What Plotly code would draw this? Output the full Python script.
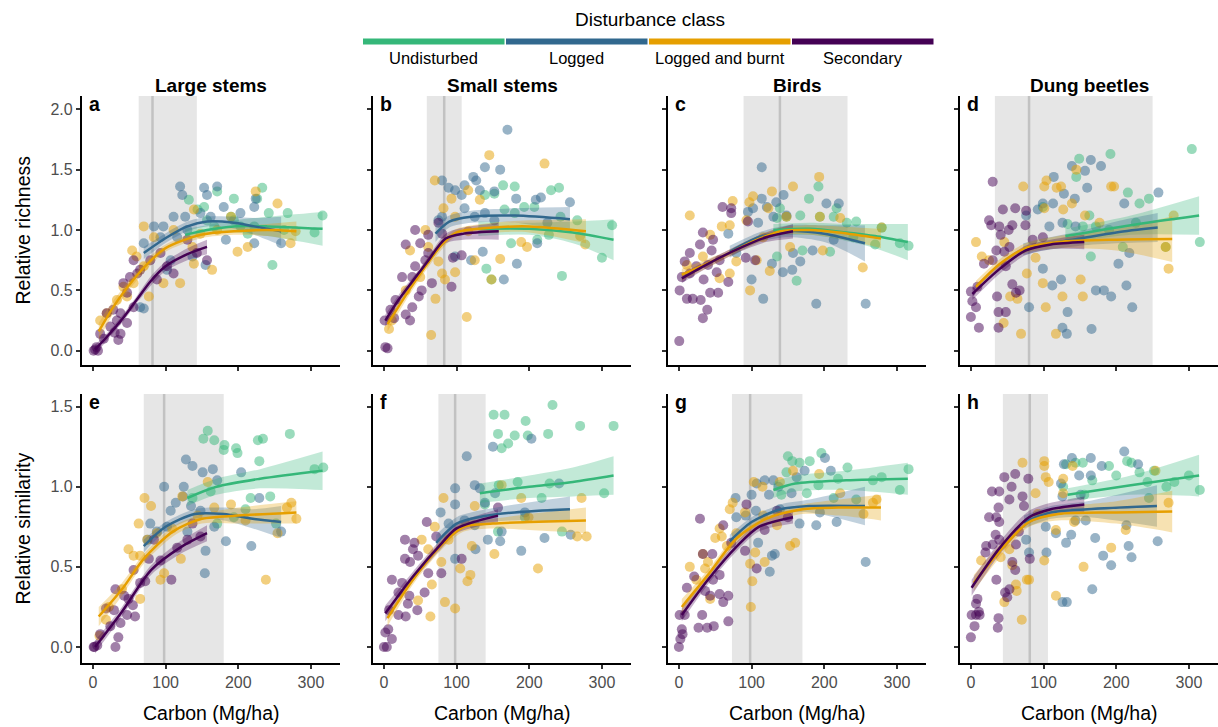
import plotly.graph_objects as go

# ---------------- data ----------------
classes = ["Undisturbed", "Logged", "Logged and burnt", "Secondary"]
class_colors = ["#35B779", "#31688E", "#E69F00", "#440154"]
panel_letters = ["a", "b", "c", "d", "e", "f", "g", "h"]
col_titles = ["Large stems", "Small stems", "Birds", "Dung beetles"]
row_titles = ["Relative richness", "Relative similarity"]
x_ticks = [0, 100, 200, 300]
y_ticks_top = [0.0, 0.5, 1.0, 1.5, 2.0]
y_ticks_bottom = [0.0, 0.5, 1.0, 1.5]

# grey band (low, high) and vertical threshold line per panel
band_lo = [63, 59, 89, 33, 70, 75, 73, 44]
band_hi = [143, 107, 232, 250, 180, 140, 170, 106]
threshold = [82, 83, 139, 80, 98, 98, 98, 81]

# ---- observed points (carbon, response) ----
pts_a_und = [(132,1.25),(171,1.32),(194,1.26),(226,1.26),(233,1.35),(242,1.14),(268,1.14),(316,1.12),(305,0.98),(247,0.71),
             (222,1.03),(213,0.97),(190,1.11),(153,1.19),(157,1.08),(203,1.03),(144,1.17),(167,1.03),(194,1.08),(263,1.0)]
pts_a_log = [(120,1.36),(123,1.29),(153,1.35),(171,1.36),(157,1.29),(148,1.14),(111,1.11),(97,1.03),(84,1.03),(93,0.94),
             (70,0.89),(65,0.36),(70,0.35),(107,0.75),(116,0.94),(130,1.0),(155,0.71),(162,1.11),(180,1.19),(203,1.14),
             (222,1.19),(224,1.26),(222,0.89),(259,0.89),(183,0.92),(137,0.78),(102,0.67),(127,1.11)]
pts_a_bur = [(70,1.03),(84,0.94),(54,0.83),(60,0.78),(70,0.70),(77,0.45),(97,0.56),(120,0.56),(111,1.0),(139,1.17),
             (137,0.86),(139,0.72),(164,0.67),(190,1.11),(199,0.82),(213,0.86),(224,1.32),(254,1.22),(272,0.89),(279,0.99),
             (10,0.25),(19,0.31),(33,0.42),(42,0.53),(47,0.45),(148,0.97),(171,1.0),(56,0.56)]
pts_a_sec = [(1,0.0),(3,0.01),(5,0.03),(7,0.0),(10,0.14),(19,0.31),(24,0.2),(33,0.25),(35,0.09),(38,0.14),(28,0.34),
             (42,0.56),(47,0.48),(51,0.61),(56,0.36),(61,0.64),(65,0.67),(47,0.23),(38,0.31),(56,0.75),(93,0.81),
             (102,0.70),(111,0.64),(130,0.92),(143,0.81),(157,0.75),(88,0.59),(79,0.75),(15,0.1),(30,0.15)]

pts_b_und = [(164,1.37),(180,1.36),(230,1.33),(241,1.35),(139,1.29),(152,1.30),(166,1.17),(180,1.14),(193,1.19),(207,1.19),
             (227,0.96),(243,1.11),(266,1.08),(314,1.04),(300,0.77),(245,0.62),(148,0.59),(141,0.68),(175,0.89),(211,0.92)]
pts_b_log = [(170,1.83),(139,1.52),(160,1.50),(123,1.44),(127,1.41),(111,1.37),(80,1.41),(89,1.35),(98,1.33),(107,1.29),
             (132,1.33),(152,1.32),(182,1.26),(209,1.25),(216,1.27),(256,1.23),(111,1.18),(125,1.11),(139,1.14),(152,1.08),
             (75,1.08),(98,0.78),(120,0.75),(136,0.82),(165,0.59),(183,0.72),(225,1.06),(211,0.89),(80,1.11)]
pts_b_bur = [(70,1.41),(145,1.62),(221,1.55),(93,1.26),(116,1.33),(132,1.25),(82,1.18),(98,1.11),(116,0.99),(57,1.0),
             (61,0.86),(75,0.74),(80,0.64),(84,0.59),(98,0.65),(71,0.43),(65,0.13),(114,0.28),(125,0.75),(160,0.76),
             (189,0.90),(197,0.86),(270,0.95),(277,0.88),(148,0.59),(30,0.5),(36,0.83),(11,0.25),(7,0.18),(50,0.61)]
pts_b_sec = [(2,0.03),(5,0.02),(1,0.25),(9,0.34),(16,0.42),(14,0.27),(30,0.30),(39,0.36),(36,0.25),(48,0.45),(43,0.70),
             (30,0.88),(43,1.0),(50,0.89),(61,0.96),(57,0.75),(25,0.61),(39,0.61),(52,0.50),(66,0.56),(75,1.06),(95,0.77),
             (107,0.79),(93,0.53),(61,0.81),(80,0.97)]

pts_c_und = [(192,1.36),(179,1.26),(217,1.18),(139,1.18),(135,1.10),(148,1.11),(167,1.12),(194,1.11),(213,1.11),(231,1.06),
             (244,1.07),(279,1.02),(304,0.89),(316,0.87),(270,0.88),(208,0.82),(170,0.83),(162,0.58),(135,0.78),(240,0.94)]
pts_c_log = [(114,1.52),(114,1.26),(102,1.18),(95,1.15),(109,1.06),(121,1.19),(134,1.23),(144,1.29),(130,1.11),(148,1.12),
             (157,0.81),(167,0.74),(143,0.65),(156,0.67),(128,0.72),(100,0.59),(116,0.43),(189,0.39),(257,0.39),(203,1.22),
             (220,1.22),(184,0.83),(213,0.92),(68,0.97),(79,0.81)]
pts_c_bur = [(15,1.12),(59,1.03),(70,1.04),(74,1.24),(102,1.28),(97,1.23),(128,1.32),(157,1.36),(193,1.44),(123,1.18),
             (93,1.08),(148,1.11),(194,1.11),(222,1.10),(279,1.02),(253,0.69),(198,0.83),(153,0.86),(98,0.50),(125,0.66),
             (107,0.75),(43,0.96),(56,0.60),(79,0.74),(33,0.78),(11,0.71),(70,0.64),(116,0.94)]
pts_c_sec = [(0.5,0.08),(1,0.50),(11,0.43),(19,0.43),(30,0.42),(33,0.27),(39,0.34),(43,0.48),(54,0.48),(4,0.61),(8,0.74),
             (15,0.81),(29,0.88),(33,0.98),(47,0.92),(45,0.83),(60,1.19),(72,1.14),(72,1.18),(40,0.71),(52,0.65),(68,0.57),
             (24,0.70),(56,0.75),(95,1.07),(92,0.77),(105,0.75),(15,0.64),(34,0.59)]

pts_d_und = [(304,1.67),(192,1.63),(149,1.59),(145,1.44),(216,1.31),(245,1.26),(232,1.22),(163,1.12),(133,1.05),(154,1.03),
             (172,1.03),(190,1.0),(227,1.06),(268,0.86),(315,0.90),(209,0.86),(165,0.78),(99,1.19)]
pts_d_log = [(165,1.58),(179,1.53),(139,1.53),(157,1.49),(114,1.44),(160,1.35),(128,1.30),(143,1.26),(258,1.31),(211,1.22),
             (99,1.22),(113,1.22),(76,1.12),(92,1.17),(108,1.03),(126,1.06),(144,1.03),(218,0.81),(203,0.72),(172,0.50),
             (183,0.50),(193,0.45),(222,0.36),(166,0.18),(126,0.19),(132,0.14),(124,0.59),(112,0.54),(133,0.32),(99,0.68),
             (214,0.54),(80,0.36)]
pts_d_bur = [(7,0.90),(15,0.78),(46,0.90),(72,1.36),(101,1.36),(104,1.41),(118,1.35),(124,1.36),(145,1.50),(193,1.36),
             (197,1.36),(127,1.17),(139,1.22),(101,1.18),(157,1.12),(279,1.12),(268,0.86),(272,0.68),(77,0.64),(99,0.56),
             (103,0.36),(126,0.45),(154,0.45),(151,0.59),(117,0.14),(69,0.14),(45,0.23),(54,0.45),(64,0.43),(25,0.75),
             (89,0.77),(177,1.06)]
pts_d_sec = [(30,1.40),(0,0.49),(2,0.41),(7,0.36),(0,0.28),(11,0.19),(9,0.53),(18,0.72),(25,1.08),(28,1.04),(39,1.03),
             (44,1.17),(61,1.18),(76,1.16),(36,0.45),(38,0.32),(38,0.19),(48,0.32),(57,0.55),(62,0.48),(67,0.50),(41,0.96),
             (52,1.0),(57,1.04),(75,1.04),(35,0.83),(46,0.82),(53,0.86),(30,0.75),(85,0.92),(48,0.70),(99,0.94)]

pts_e_und = [(158,1.35),(152,1.30),(167,1.29),(181,1.26),(180,1.23),(197,1.24),(199,1.21),(227,1.29),(234,1.30),(271,1.33),
             (229,1.16),(305,1.11),(317,1.12),(244,0.94),(217,0.93),(210,0.86),(137,0.93),(162,0.97),(171,0.77),(194,0.81),
             (252,0.77)]
pts_e_log = [(128,1.17),(137,1.13),(151,1.09),(165,1.11),(171,1.04),(204,1.09),(229,0.93),(125,1.0),(98,1.0),(114,0.90),
             (135,0.88),(79,0.77),(88,0.72),(107,0.85),(124,0.94),(148,0.85),(155,0.60),(154,0.46),(183,0.66),(218,0.63),
             (259,0.72),(167,0.75),(75,0.67),(102,0.75),(130,0.72)]
pts_e_bur = [(71,0.93),(80,0.88),(63,0.77),(49,0.61),(56,0.57),(75,0.67),(88,0.71),(109,0.74),(121,0.55),(93,0.42),
             (98,0.46),(123,0.94),(158,1.03),(190,0.89),(210,0.79),(238,0.42),(254,0.71),(267,0.87),(273,0.90),(280,0.80),
             (167,0.87),(144,0.82),(18,0.17),(9,0.07),(22,0.25),(40,0.36),(65,0.30),(65,0.57)]
pts_e_sec = [(2,0.0),(6,0.01),(1,0.0),(10,0.08),(18,0.24),(31,0.36),(31,0.0),(35,0.06),(38,0.15),(29,0.23),(47,0.2),
             (55,0.26),(58,0.19),(49,0.30),(65,0.40),(72,0.41),(56,0.48),(77,0.55),(93,0.54),(108,0.42),(116,0.62),
             (130,0.67),(148,0.69),(137,0.77),(84,0.67),(43,0.32),(24,0.13)]

pts_f_und = [(151,1.45),(166,1.45),(232,1.51),(316,1.38),(270,1.38),(195,1.41),(180,1.32),(198,1.32),(157,1.33),(162,1.24),
             (226,1.33),(171,1.27),(184,1.03),(228,1.02),(217,0.93),(303,0.96),(158,1.01),(245,0.72),(157,0.72),(194,0.81),
             (139,0.89)]
pts_f_log = [(114,1.19),(150,1.25),(203,1.30),(98,0.99),(125,1.01),(132,0.99),(241,1.02),(153,0.96),(98,0.89),(111,0.79),
             (125,0.76),(143,0.67),(126,0.61),(160,0.66),(189,0.60),(221,0.68),(257,0.70),(78,0.84),(89,0.77),(139,0.90),
             (194,0.84),(162,0.72),(98,0.55)]
pts_f_bur = [(82,0.93),(125,0.88),(162,1.01),(189,0.93),(272,0.93),(266,0.69),(279,0.69),(199,0.81),(152,0.58),(212,0.49),
             (119,0.45),(115,0.41),(105,0.49),(98,0.24),(84,0.28),(64,0.19),(47,0.29),(66,0.39),(79,0.53),(70,0.75),
             (52,0.67),(89,0.67),(61,0.61),(121,0.63)]
pts_f_sec = [(0,0.0),(4,0.0),(2,0.09),(6,0.11),(11,0.05),(7,0.23),(20,0.2),(11,0.42),(25,0.40),(29,0.55),(36,0.53),
             (42,0.65),(40,0.61),(35,0.32),(33,0.27),(46,0.23),(56,0.34),(61,0.46),(59,0.78),(72,0.69),(79,0.46),
             (107,0.55),(47,0.57),(20,0.34),(30,0.19),(157,0.87),(29,0.67)]

pts_g_und = [(150,1.19),(156,1.16),(196,1.21),(166,1.15),(180,1.16),(232,1.12),(316,1.11),(304,0.98),(267,1.04),(279,1.06),
             (219,1.05),(192,1.01),(148,1.09),(141,0.95),(176,0.96),(213,0.93),(244,0.92)]
pts_g_log = [(201,1.18),(209,1.10),(162,1.06),(173,1.10),(118,1.04),(130,1.04),(137,1.0),(107,1.02),(78,0.93),(100,0.95),
             (124,0.95),(155,0.96),(106,0.85),(79,0.81),(92,0.82),(166,0.77),(189,0.76),(217,0.78),(257,0.53),(128,0.57),
             (132,0.58),(125,0.47),(109,0.65),(194,0.84),(139,0.86)]
pts_g_bur = [(157,1.10),(193,1.08),(103,1.03),(115,1.0),(139,1.03),(70,0.86),(74,0.90),(91,0.84),(116,0.82),(135,0.76),
             (153,0.63),(160,0.65),(105,0.59),(98,0.52),(118,0.53),(101,0.41),(99,0.25),(59,0.69),(50,0.68),(56,0.74),
             (40,0.53),(36,0.49),(15,0.50),(24,0.42),(43,0.30),(267,0.90),(272,0.92),(254,0.83),(222,0.96),(33,0.58),
             (66,0.63),(79,0.71)]
pts_g_sec = [(0,0.0),(2,0.05),(5,0.08),(4,0.11),(1,0.2),(8,0.2),(11,0.37),(21,0.44),(29,0.80),(27,0.12),(32,0.2),
             (39,0.12),(48,0.13),(33,0.58),(46,0.58),(36,0.35),(43,0.32),(56,0.33),(68,0.32),(61,0.28),(68,0.16),
             (56,0.45),(61,0.76),(72,0.65),(91,0.60),(93,0.89),(107,0.49),(118,0.73),(135,0.85),(150,0.81),(47,0.42)]

pts_h_und = [(131,1.14),(144,1.15),(154,1.15),(190,1.13),(215,1.16),(221,1.15),(243,1.03),(252,1.10),(269,1.0),(280,1.03),
             (315,0.98),(300,1.07),(167,1.04),(127,1.0),(156,0.95),(200,1.07),(232,1.09),(245,0.93)]
pts_h_log = [(128,1.14),(139,1.18),(165,1.18),(180,1.13),(211,1.22),(230,1.14),(149,1.07),(165,1.07),(124,1.02),(126,0.94),
             (151,0.95),(103,0.75),(117,0.71),(131,0.65),(138,0.70),(144,0.79),(158,0.79),(104,0.59),(80,0.59),(214,0.76),
             (171,0.68),(217,0.63),(257,0.66),(221,0.56),(182,0.57),(193,0.51),(167,0.36),(126,0.28),(132,0.28),(76,0.67)]
pts_h_bur = [(101,1.16),(71,1.15),(101,1.13),(103,1.06),(107,1.03),(127,0.96),(140,1.13),(127,1.05),(89,0.96),(92,0.83),
             (117,0.73),(142,0.78),(101,0.54),(155,0.50),(193,0.62),(213,0.73),(272,0.90),(254,1.10),(117,0.32),(80,0.42),
             (77,0.42),(62,0.39),(46,0.28),(70,0.17),(63,0.35),(53,0.61),(41,0.56),(14,0.54),(57,0.51)]
pts_h_sec = [(0,0.06),(5,0.13),(1,0.20),(7,0.20),(12,0.20),(11,0.22),(7,0.27),(9,0.30),(37,0.12),(38,0.18),(35,0.42),
             (47,0.34),(53,0.36),(50,0.31),(61,0.48),(57,0.53),(21,0.63),(30,0.64),(20,0.59),(34,0.70),(39,0.67),
             (25,0.81),(35,0.81),(39,0.78),(38,0.87),(29,0.97),(39,0.97),(46,1.06),(53,0.92),(61,1.08),(79,1.05),
             (56,1.0),(71,0.94),(73,0.88),(66,0.72),(81,0.55),(62,0.64)]

# ---- fitted curves (carbon, fit, half-width of confidence band) ----
fit_a_und = [(127,0.96,0.05),(157,1.0,0.04),(194,1.03,0.05),(240,1.03,0.08),(316,1.01,0.14)]
fit_a_log = [(70,0.81,0.05),(102,0.94,0.04),(130,1.03,0.04),(157,1.07,0.04),(194,1.06,0.05),(222,1.03,0.07),(259,0.99,0.12)]
fit_a_bur = [(8,0.16,0.07),(30,0.38,0.05),(56,0.59,0.04),(75,0.72,0.04),(100,0.85,0.03),(148,0.96,0.03),(194,0.99,0.03),(240,1.0,0.05),(280,0.99,0.08)]
fit_a_sec = [(3,0.01,0.04),(20,0.12,0.03),(40,0.26,0.03),(60,0.42,0.03),(80,0.58,0.04),(100,0.70,0.04),(130,0.80,0.05),(157,0.86,0.06)]

fit_b_und = [(130,1.01,0.06),(200,1.01,0.05),(260,0.98,0.09),(316,0.92,0.17)]
fit_b_log = [(71,0.97,0.07),(90,1.07,0.05),(120,1.11,0.05),(180,1.12,0.06),(256,1.09,0.10)]
fit_b_bur = [(5,0.22,0.06),(40,0.55,0.04),(80,0.88,0.04),(100,0.98,0.03),(150,1.02,0.04),(200,1.03,0.05),(278,0.99,0.10)]
fit_b_sec = [(2,0.25,0.05),(20,0.42,0.04),(40,0.58,0.03),(60,0.74,0.03),(85,0.93,0.04),(110,0.97,0.05),(158,0.99,0.07)]

fit_c_und = [(130,1.0,0.05),(180,1.01,0.05),(230,0.98,0.07),(270,0.95,0.10),(315,0.90,0.15)]
fit_c_log = [(70,0.82,0.05),(110,0.94,0.04),(150,0.99,0.05),(200,0.97,0.07),(256,0.89,0.15)]
fit_c_bur = [(4,0.63,0.05),(60,0.78,0.03),(100,0.90,0.03),(140,0.99,0.03),(180,1.0,0.04),(220,0.98,0.05),(278,0.93,0.08)]
fit_c_sec = [(4,0.60,0.04),(40,0.72,0.03),(80,0.84,0.03),(120,0.94,0.04),(157,0.99,0.06)]

fit_d_und = [(130,0.95,0.06),(220,1.04,0.08),(314,1.12,0.16)]
fit_d_log = [(72,0.84,0.05),(100,0.88,0.05),(150,0.93,0.06),(200,0.98,0.09),(257,1.02,0.12)]
fit_d_bur = [(7,0.53,0.05),(40,0.72,0.04),(75,0.85,0.04),(120,0.90,0.05),(200,0.92,0.09),(277,0.925,0.19)]
fit_d_sec = [(2,0.47,0.05),(40,0.68,0.04),(75,0.83,0.04),(110,0.88,0.04),(156,0.90,0.06)]

fit_e_und = [(130,0.93,0.05),(170,1.0,0.05),(230,1.05,0.06),(316,1.10,0.12)]
fit_e_log = [(70,0.63,0.04),(100,0.75,0.03),(140,0.83,0.03),(180,0.83,0.04),(220,0.80,0.06),(259,0.78,0.10)]
fit_e_bur = [(8,0.19,0.06),(40,0.36,0.04),(70,0.55,0.03),(110,0.72,0.03),(150,0.80,0.03),(200,0.82,0.05),(280,0.84,0.07)]
fit_e_sec = [(3,0.0,0.04),(40,0.22,0.03),(80,0.48,0.03),(120,0.62,0.04),(157,0.71,0.05)]

fit_f_und = [(132,0.96,0.06),(200,1.0,0.07),(260,1.03,0.09),(316,1.07,0.12)]
fit_f_log = [(72,0.65,0.05),(100,0.77,0.04),(130,0.81,0.04),(180,0.84,0.05),(256,0.86,0.08)]
fit_f_bur = [(5,0.18,0.05),(40,0.42,0.03),(80,0.64,0.03),(110,0.75,0.03),(150,0.77,0.03),(200,0.78,0.05),(278,0.79,0.08)]
fit_f_sec = [(2,0.21,0.05),(40,0.44,0.03),(80,0.65,0.03),(100,0.74,0.03),(157,0.82,0.04)]

fit_g_und = [(130,0.98,0.05),(160,1.02,0.05),(230,1.04,0.06),(315,1.05,0.10)]
fit_g_log = [(70,0.66,0.04),(100,0.78,0.03),(140,0.86,0.03),(180,0.88,0.04),(256,0.88,0.12)]
fit_g_bur = [(4,0.25,0.05),(40,0.45,0.03),(80,0.68,0.03),(120,0.80,0.03),(170,0.86,0.03),(220,0.87,0.05),(278,0.87,0.08)]
fit_g_sec = [(4,0.20,0.04),(40,0.42,0.03),(80,0.63,0.03),(110,0.75,0.03),(157,0.81,0.04)]

fit_h_und = [(133,0.95,0.04),(220,1.01,0.06),(314,1.07,0.13)]
fit_h_log = [(73,0.78,0.04),(110,0.84,0.04),(160,0.86,0.05),(256,0.88,0.13)]
fit_h_bur = [(4,0.40,0.05),(40,0.60,0.04),(80,0.78,0.03),(120,0.83,0.04),(200,0.84,0.07),(277,0.845,0.13)]
fit_h_sec = [(1,0.37,0.05),(40,0.62,0.04),(80,0.81,0.04),(110,0.86,0.04),(156,0.89,0.05)]

points = {
    "a": [pts_a_und, pts_a_log, pts_a_bur, pts_a_sec], "b": [pts_b_und, pts_b_log, pts_b_bur, pts_b_sec],
    "c": [pts_c_und, pts_c_log, pts_c_bur, pts_c_sec], "d": [pts_d_und, pts_d_log, pts_d_bur, pts_d_sec],
    "e": [pts_e_und, pts_e_log, pts_e_bur, pts_e_sec], "f": [pts_f_und, pts_f_log, pts_f_bur, pts_f_sec],
    "g": [pts_g_und, pts_g_log, pts_g_bur, pts_g_sec], "h": [pts_h_und, pts_h_log, pts_h_bur, pts_h_sec],
}
fits = {
    "a": [fit_a_und, fit_a_log, fit_a_bur, fit_a_sec], "b": [fit_b_und, fit_b_log, fit_b_bur, fit_b_sec],
    "c": [fit_c_und, fit_c_log, fit_c_bur, fit_c_sec], "d": [fit_d_und, fit_d_log, fit_d_bur, fit_d_sec],
    "e": [fit_e_und, fit_e_log, fit_e_bur, fit_e_sec], "f": [fit_f_und, fit_f_log, fit_f_bur, fit_f_sec],
    "g": [fit_g_und, fit_g_log, fit_g_bur, fit_g_sec], "h": [fit_h_und, fit_h_log, fit_h_bur, fit_h_sec],
}

# ---------------- layout helpers ----------------
W, H = 1218, 727
FONT = "Liberation Sans, Arial, sans-serif"
col_left = [82, 373, 668, 960]
panel_w = 258
row_top = [96, 394]
row_bot = [365, 663]
y_ranges = [[-0.118, 2.11], [-0.10, 1.579]]
x_range = [-15, 340]


def rgba(hex_color, a):
    h = hex_color.lstrip("#")
    return "rgba(%d,%d,%d,%.3f)" % (int(h[0:2], 16), int(h[2:4], 16), int(h[4:6], 16), a)


fig = go.Figure()
shapes = []
annotations = []

for i, letter in enumerate(panel_letters):
    r, c = divmod(i, 4)
    n = i + 1
    xa = "x" if n == 1 else "x%d" % n
    ya = "y" if n == 1 else "y%d" % n

    x0 = col_left[c] / W
    x1 = min((col_left[c] + panel_w) / W, 1.0)
    y0 = 1 - row_bot[r] / H
    y1 = 1 - row_top[r] / H

    fig.layout["xaxis%s" % ("" if n == 1 else n)] = dict(
        domain=[x0, x1], range=x_range, anchor=ya, showgrid=False, zeroline=False,
        showline=True, linecolor="black", linewidth=2.2, ticks="outside", ticklen=4,
        tickwidth=1.6, tickcolor="#333333", tickvals=x_ticks,
        showticklabels=(r == 1), tickfont=dict(family=FONT, size=16, color="#4D4D4D"),
    )
    fig.layout["yaxis%s" % ("" if n == 1 else n)] = dict(
        domain=[y0, y1], range=y_ranges[r], anchor=xa, showgrid=False, zeroline=False,
        showline=True, linecolor="black", linewidth=2.2, ticks="outside", ticklen=4,
        tickwidth=1.6, tickcolor="#333333",
        tickvals=y_ticks_top if r == 0 else y_ticks_bottom, tickformat=".1f",
        showticklabels=(c == 0), tickfont=dict(family=FONT, size=16, color="#4D4D4D"),
    )

    # grey band + threshold line
    shapes.append(dict(type="rect", xref=xa, yref=ya + " domain", x0=band_lo[i], x1=band_hi[i],
                       y0=0, y1=1, fillcolor="#E6E6E6", line=dict(width=0), layer="below"))
    shapes.append(dict(type="line", xref=xa, yref=ya + " domain", x0=threshold[i], x1=threshold[i],
                       y0=0, y1=1, line=dict(color="#C2C2C2", width=2.5), layer="below"))

    # points
    for k, cls in enumerate(classes):
        pts = points[letter][k]
        fig.add_trace(go.Scatter(
            x=[p[0] for p in pts], y=[p[1] for p in pts], mode="markers", xaxis=xa, yaxis=ya,
            marker=dict(size=10, color=rgba(class_colors[k], 0.5), line=dict(width=0)),
            showlegend=False, hoverinfo="skip"))

    # confidence ribbons (lower bound, then upper bound filled to it)
    for k, cls in enumerate(classes):
        f = fits[letter][k]
        fx = [p[0] for p in f]
        upper = [p[1] + p[2] for p in f]
        lower = [p[1] - p[2] for p in f]
        fig.add_trace(go.Scatter(
            x=fx, y=lower, mode="lines", line=dict(width=0, shape="spline", smoothing=0.8),
            xaxis=xa, yaxis=ya, showlegend=False, hoverinfo="skip"))
        fig.add_trace(go.Scatter(
            x=fx, y=upper, mode="lines", fill="tonexty", fillcolor=rgba(class_colors[k], 0.3),
            line=dict(width=0, shape="spline", smoothing=0.8),
            xaxis=xa, yaxis=ya, showlegend=False, hoverinfo="skip"))
    # fitted lines
    for k, cls in enumerate(classes):
        f = fits[letter][k]
        fig.add_trace(go.Scatter(
            x=[p[0] for p in f], y=[p[1] for p in f], mode="lines",
            line=dict(color=class_colors[k], width=2.5, shape="spline", smoothing=0.8),
            xaxis=xa, yaxis=ya, showlegend=False, hoverinfo="skip"))

    # panel letter
    annotations.append(dict(text="<b>%s</b>" % letter, x=(col_left[c] + 5) / W,
                            y=1 - (row_top[r] + 8) / H, xref="paper", yref="paper",
                            xanchor="left", yanchor="middle", showarrow=False,
                            font=dict(family=FONT, size=19.5, color="black")))

# column titles and x-axis titles
for c, t in enumerate(col_titles):
    annotations.append(dict(text="<b>%s</b>" % t, x=(col_left[c] + panel_w / 2) / W, y=1 - 86 / H,
                            xref="paper", yref="paper", showarrow=False, xanchor="center", yanchor="middle",
                            font=dict(family=FONT, size=19, color="black")))
    annotations.append(dict(text="Carbon (Mg/ha)", x=(col_left[c] + panel_w / 2) / W, y=1 - 713 / H,
                            xref="paper", yref="paper", showarrow=False, xanchor="center", yanchor="middle",
                            font=dict(family=FONT, size=19.5, color="black")))

# row titles
for r, t in enumerate(row_titles):
    annotations.append(dict(text=t, x=22 / W, y=1 - ((row_top[r] + row_bot[r]) / 2) / H,
                            xref="paper", yref="paper", showarrow=False, textangle=-90,
                            xanchor="center", yanchor="middle",
                            font=dict(family=FONT, size=19.5, color="black")))

# legend (colour bar)
annotations.append(dict(text="Disturbance class", x=650 / W, y=1 - 19 / H, xref="paper", yref="paper",
                        showarrow=False, xanchor="center", yanchor="middle",
                        font=dict(family=FONT, size=19, color="black")))
leg_left = 363
leg_seg = 143
for k, cls in enumerate(classes):
    lx0 = leg_left + k * leg_seg
    lx1 = lx0 + leg_seg - 1.5
    shapes.append(dict(type="rect", xref="paper", yref="paper", x0=lx0 / W, x1=lx1 / W,
                       y0=1 - 44.5 / H, y1=1 - 38.5 / H, fillcolor=class_colors[k], line=dict(width=0)))
    annotations.append(dict(text=cls, x=(lx0 + lx1) / 2 / W, y=1 - 58 / H, xref="paper", yref="paper",
                            showarrow=False, xanchor="center", yanchor="middle",
                            font=dict(family=FONT, size=16.5, color="black")))

fig.update_layout(width=W, height=H, margin=dict(l=0, r=0, t=0, b=0),
                  plot_bgcolor="white", paper_bgcolor="white", shapes=shapes,
                  annotations=annotations, showlegend=False, font=dict(family=FONT))

fig.write_html("out.html", config={"displayModeBar": False},
               post_script="document.body.style.margin='0';document.body.style.overflow='hidden';")
